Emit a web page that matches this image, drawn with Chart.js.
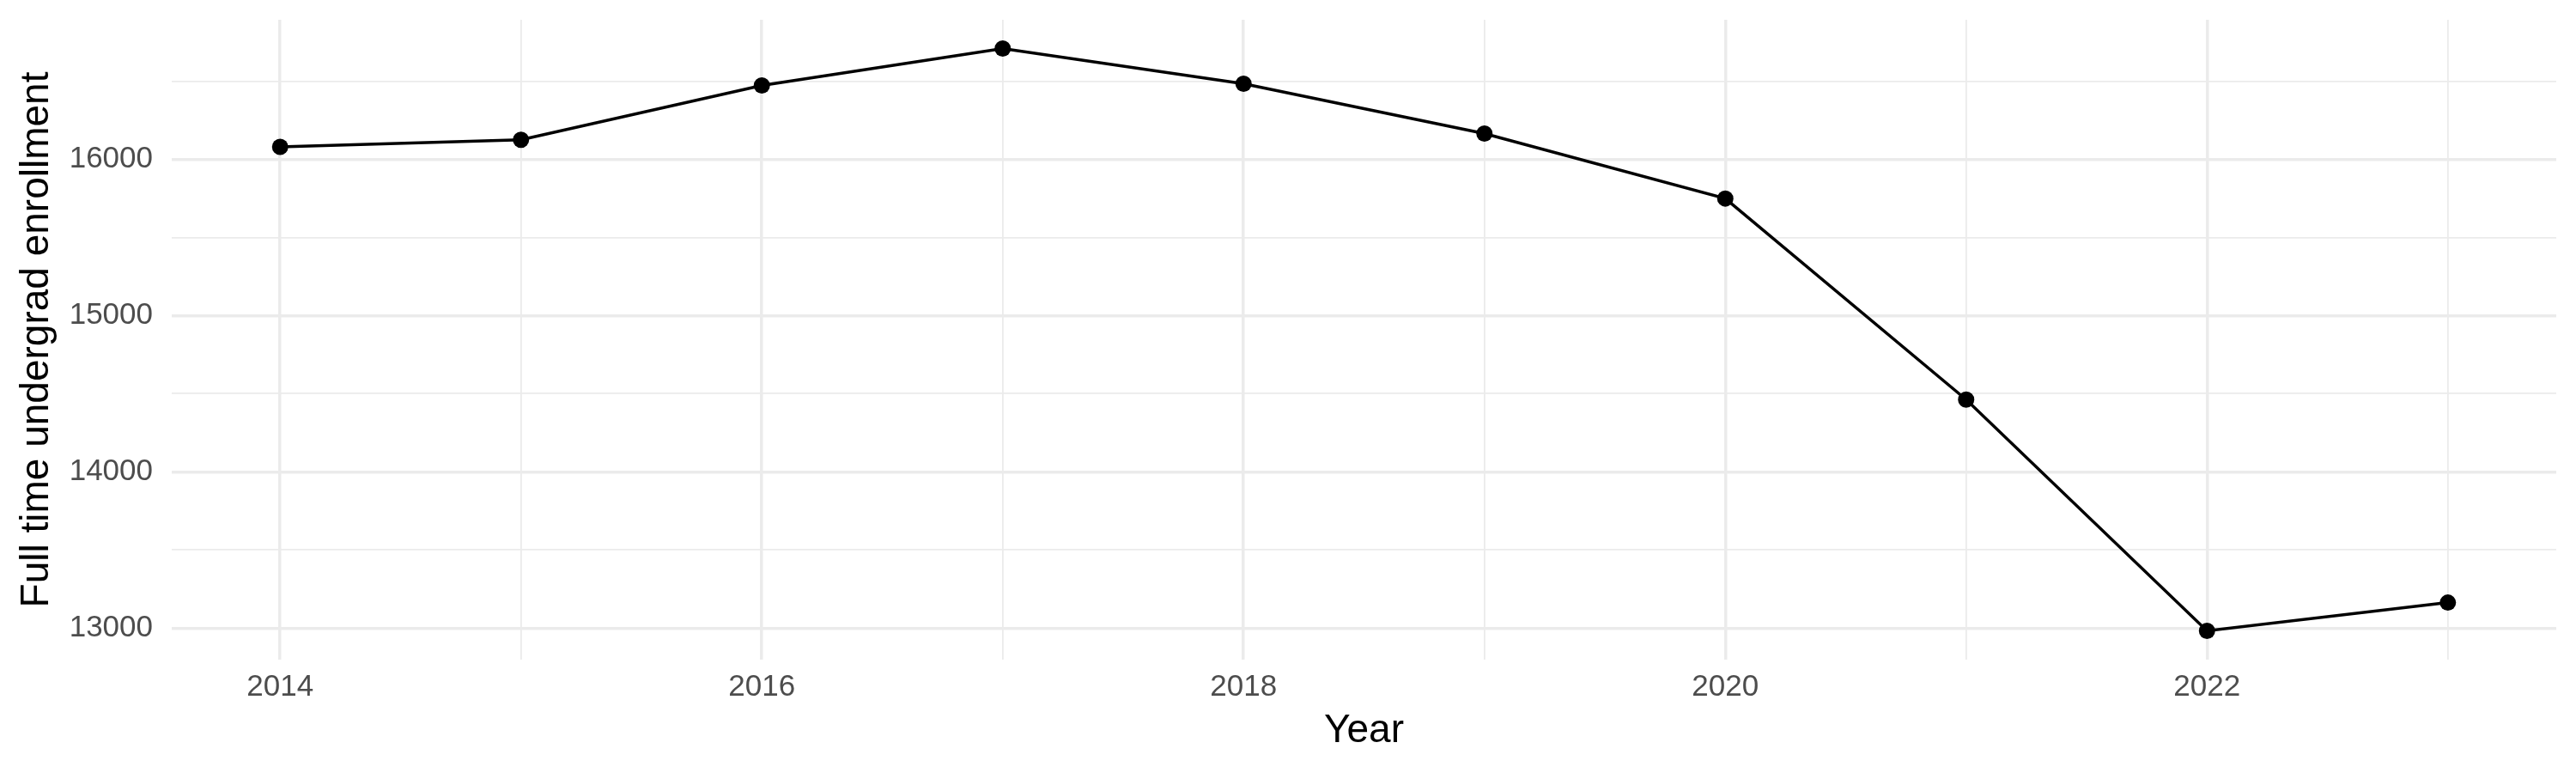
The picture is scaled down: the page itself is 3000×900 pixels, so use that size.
<!DOCTYPE html>
<html>
<head>
<meta charset="utf-8">
<title>Full time undergrad enrollment</title>
<script src="https://cdn.jsdelivr.net/npm/chart.js@4/dist/chart.umd.min.js"></script>
<style>
  html, body { margin: 0; padding: 0; background: #ffffff; }
  #chart { display: block; }
</style>
</head>
<body>
<canvas id="chart" width="3000" height="900"></canvas>
<script>
// Valores
const years = [2014, 2015, 2016, 2017, 2018, 2019, 2020, 2021, 2022, 2023];
const enrollment = [16079, 16125, 16472, 16709, 16483, 16165, 15749, 14462, 12982, 13163];
const yTickLabels = [13000, 14000, 15000, 16000];
const xTickLabels = [2014, 2016, 2018, 2020, 2022];

const FONT = '"Liberation Sans", Arial, Helvetica, sans-serif';
const GRID = '#EBEBEB';

/**
 * Grelha principal nos valores com rótulo e grelha secundária a meio caminho.
 */
function withMinor(majors, half) {
    const out = [];
    majors.forEach((v) => { out.push({ value: v }); out.push({ value: v + half }); });
    return out;
}

function initializeChart() {
    const canvas = document.getElementById('chart');
    if (!canvas) return;

    const points = years.map((year, i) => ({ x: year, y: enrollment[i] }));

    new Chart(canvas.getContext('2d'), {
        type: 'line',
        data: {
            datasets: [{
                data: points,
                borderColor: '#000000',
                borderWidth: 3.5,
                backgroundColor: '#000000',
                pointRadius: 9.5,
                pointBorderWidth: 0,
                pointBackgroundColor: '#000000',
                tension: 0,
                fill: false
            }]
        },
        options: {
            responsive: false,
            devicePixelRatio: 1,
            animation: false,
            layout: { padding: { left: 0, right: 23, top: 23, bottom: 0 } },
            plugins: {
                legend: { display: false },
                tooltip: { enabled: false },
                title: { display: false }
            },
            scales: {
                x: {
                    type: 'linear',
                    min: 2013.55,
                    max: 2023.45,
                    border: { display: false },
                    grid: {
                        color: GRID,
                        drawTicks: false,
                        lineWidth: (ctx) => (ctx.tick && xTickLabels.includes(ctx.tick.value)) ? 3.5 : 1.8
                    },
                    afterBuildTicks: (scale) => { scale.ticks = withMinor(xTickLabels, 1); },
                    ticks: {
                        autoSkip: false,
                        maxRotation: 0,
                        padding: 11,
                        color: '#4D4D4D',
                        font: { family: FONT, size: 35 },
                        callback: (value) => xTickLabels.includes(value) ? String(value) : ''
                    },
                    title: {
                        display: true,
                        text: 'Year',
                        color: '#000000',
                        font: { family: FONT, size: 46 },
                        padding: { top: 0, bottom: 21 }
                    },
                    afterFit: (scale) => {
                        scale.height = 132;
                        scale.paddingLeft = 0;
                        scale.paddingRight = 0;
                    }
                },
                y: {
                    type: 'linear',
                    min: 12798,
                    max: 16893,
                    border: { display: false },
                    grid: {
                        color: GRID,
                        drawTicks: false,
                        lineWidth: (ctx) => (ctx.tick && yTickLabels.includes(ctx.tick.value)) ? 3.5 : 1.8
                    },
                    afterBuildTicks: (scale) => { scale.ticks = withMinor(yTickLabels, 500); },
                    ticks: {
                        autoSkip: false,
                        padding: 22,
                        color: '#4D4D4D',
                        font: { family: FONT, size: 35 },
                        callback: (value) => yTickLabels.includes(value) ? String(value) : ''
                    },
                    title: {
                        display: true,
                        text: 'Full time undergrad enrollment',
                        color: '#000000',
                        font: { family: FONT, size: 46 },
                        padding: { top: 16, bottom: 0 }
                    },
                    afterFit: (scale) => {
                        scale.width = 200;
                        scale.paddingTop = 0;
                        scale.paddingBottom = 0;
                    }
                }
            }
        }
    });
}

document.addEventListener('DOMContentLoaded', initializeChart);
</script>
</body>
</html>
